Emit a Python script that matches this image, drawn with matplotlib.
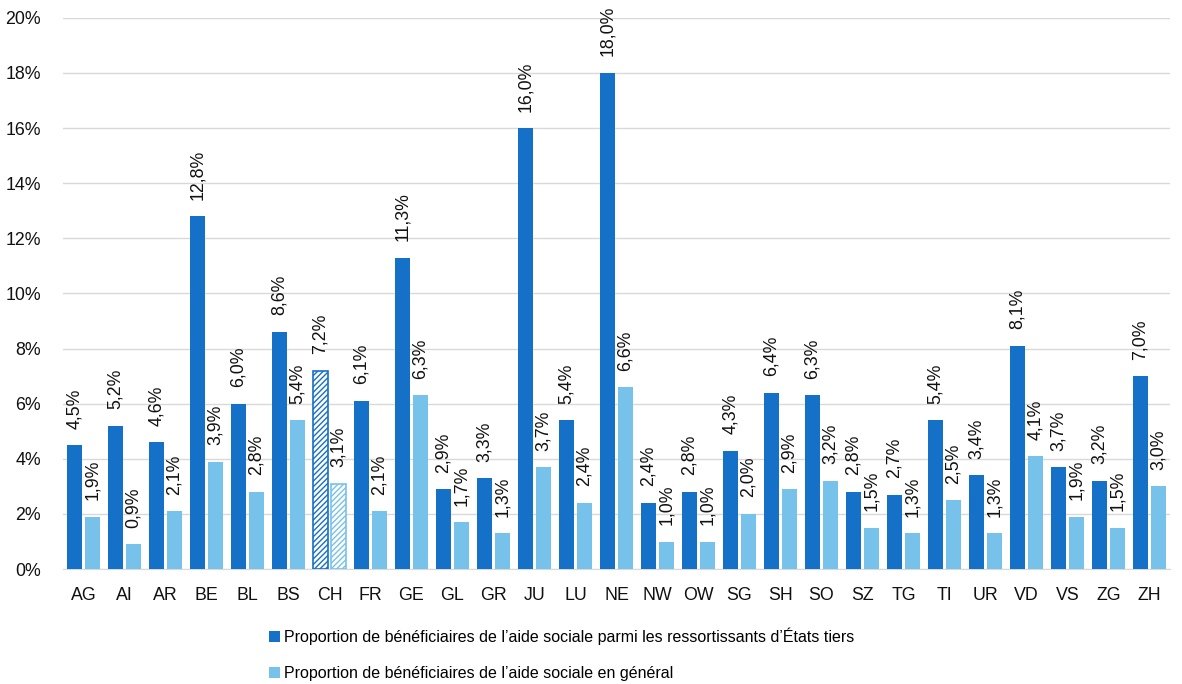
import numpy as np
import matplotlib.pyplot as plt

plt.rcParams['font.family'] = ['Liberation Sans', 'DejaVu Sans']

cantons = ['AG', 'AI', 'AR', 'BE', 'BL', 'BS', 'CH', 'FR', 'GE', 'GL', 'GR', 'JU', 'LU', 'NE',
           'NW', 'OW', 'SG', 'SH', 'SO', 'SZ', 'TG', 'TI', 'UR', 'VD', 'VS', 'ZG', 'ZH']
tiers = [4.5, 5.2, 4.6, 12.8, 6.0, 8.6, 7.2, 6.1, 11.3, 2.9, 3.3, 16.0, 5.4, 18.0,
         2.4, 2.8, 4.3, 6.4, 6.3, 2.8, 2.7, 5.4, 3.4, 8.1, 3.7, 3.2, 7.0]
general = [1.9, 0.9, 2.1, 3.9, 2.8, 5.4, 3.1, 2.1, 6.3, 1.7, 1.3, 3.7, 2.4, 6.6,
           1.0, 1.0, 2.0, 2.9, 3.2, 1.5, 1.3, 2.5, 1.3, 4.1, 1.9, 1.5, 3.0]
noms = ["Proportion de bénéficiaires de l’aide sociale parmi les ressortissants d’États tiers",
        "Proportion de bénéficiaires de l’aide sociale en général"]

c_fonce = '#1570C8'
c_clair = '#76C2EA'

fig = plt.figure(figsize=(11.82, 6.84), dpi=100)
ax = fig.add_axes([0.0533, 0.168, 0.9365, 0.806])

x = np.arange(len(cantons))
w = 0.366
gap = 0.07
b1 = ax.bar(x - w/2 - gap/2, tiers, w, color=c_fonce, label=noms[0], zorder=3)
b2 = ax.bar(x + w/2 + gap/2, general, w, color=c_clair, label=noms[1], zorder=3)

# CH = moyenne suisse, hachurée
i = cantons.index('CH')
for b, c in [(b1[i], c_fonce), (b2[i], c_clair)]:
    b.set_facecolor('white')
    b.set_edgecolor(c)
    b.set_hatch('//////')
    b.set_linewidth(1.2)

for bars, vals in [(b1, tiers), (b2, general)]:
    for b, v in zip(bars, vals):
        ax.text(b.get_x() + b.get_width()/2, v + 0.6, f'{v:.1f}%'.replace('.', ','),
                rotation=90, ha='center', va='bottom', fontsize=12.8, color='#111111')

ax.set_ylim(0, 20)
ax.set_xlim(-0.5, len(cantons) - 0.5)
ax.set_yticks(np.arange(0, 21, 2))
ax.set_yticklabels([f'{t}%' for t in range(0, 21, 2)])
ax.set_xticks(x)
ax.set_xticklabels(cantons)
ax.tick_params(axis='both', length=0, labelsize=12.8, colors='#111111')
ax.tick_params(axis='x', pad=13)
ax.tick_params(axis='y', pad=16)
ax.grid(axis='y', color='#d9d9d9', linewidth=1, zorder=0)
for s in ['top', 'right', 'left']:
    ax.spines[s].set_visible(False)
ax.spines['bottom'].set_color('#d9d9d9')

fig.legend(handles=[b1[0], b2[0]], labels=noms, loc='lower left', bbox_to_anchor=(0.215, -0.017),
           frameon=False, fontsize=11.5, handlelength=0.7, handleheight=0.7, handletextpad=0.3,
           labelspacing=1.3)

fig.savefig('out.png', dpi=100)
